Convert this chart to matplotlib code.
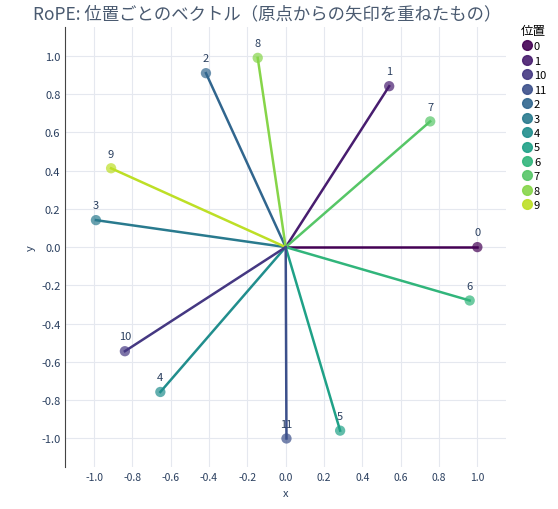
import matplotlib
matplotlib.use("Agg")
import matplotlib.pyplot as plt
from matplotlib.lines import Line2D

plt.rcParams['font.family'] = ['Noto Sans CJK JP', 'DejaVu Sans']

positions = ['0', '1', '2', '3', '4', '5', '6', '7', '8', '9', '10', '11']
xs = [1.0, 0.540, -0.416, -0.990, -0.654, 0.284, 0.960, 0.754, -0.146, -0.911, -0.839, 0.004]
ys = [0.0, 0.841, 0.909, 0.141, -0.757, -0.959, -0.279, 0.657, 0.989, 0.412, -0.544, -1.000]
legend_order = ['0', '1', '10', '11', '2', '3', '4', '5', '6', '7', '8', '9']

cmap = plt.get_cmap('viridis')
n = len(legend_order)
colors = {k: cmap(0.9 * i / (n - 1)) for i, k in enumerate(legend_order)}

fig = plt.figure(figsize=(5.58, 5.10), dpi=100)
ax = fig.add_axes([0.117, 0.082, 0.79, 0.863])
for p, x, y in zip(positions, xs, ys):
    c = colors[p]
    ax.plot([0, x], [0, y], color=c, lw=1.8, zorder=2)
    ax.scatter([x], [y], s=55, color=c, alpha=0.7, zorder=3, edgecolors='none')
    ax.annotate(p, (x, y), xytext=(0, 7), textcoords='offset points', ha='center',
                va='bottom', fontsize=8, color='#2a3f5f')

ticks = [-1.0, -0.8, -0.6, -0.4, -0.2, 0.0, 0.2, 0.4, 0.6, 0.8, 1.0]
ax.set_xticks(ticks)
ax.set_yticks(ticks)
ax.set_xticklabels([f"{t:.1f}" for t in ticks], fontsize=7.5, color='#2a3f5f')
ax.set_yticklabels([f"{t:.1f}" for t in ticks], fontsize=8, color='#2a3f5f')
ax.set_xlim(-1.15, 1.15)
ax.set_ylim(-1.15, 1.15)
ax.grid(True, color='#e5e8ef', lw=0.8)
ax.set_axisbelow(True)
for s in ['top', 'right', 'bottom']:
    ax.spines[s].set_visible(False)
ax.spines['left'].set_color('#444444')
ax.tick_params(length=0)
ax.set_xlabel('x', fontsize=8, color='#2a3f5f')
ax.set_ylabel('y', fontsize=8, color='#2a3f5f')
fig.text(0.06, 0.972, 'RoPE: 位置ごとのベクトル（原点からの矢印を重ねたもの）', fontsize=12.5,
         color='#4a5a70', va='center')

handles = [Line2D([0], [0], marker='o', ls='', markersize=7, color=colors[k], alpha=0.9)
           for k in legend_order]
leg = fig.legend(handles, legend_order, title='位置', loc='upper left',
                 bbox_to_anchor=(0.925, 0.96), frameon=False, fontsize=8,
                 handletextpad=0.0, labelspacing=0.4, borderaxespad=0, handlelength=1.2)
leg.get_title().set_fontsize(9)
leg._legend_box.align = 'left'
fig.savefig('out.png', dpi=100)
